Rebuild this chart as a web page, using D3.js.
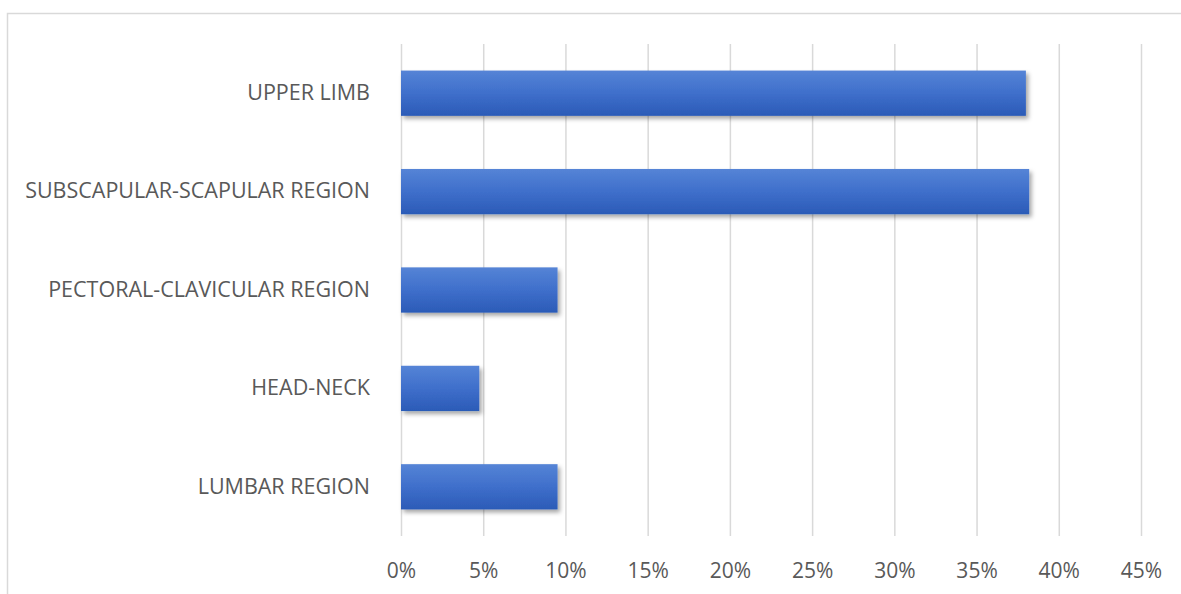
<!DOCTYPE html>
<html>
<head>
<meta charset="utf-8">
<script src="https://cdn.jsdelivr.net/npm/d3@7"></script>
<style>
  html, body { margin: 0; padding: 0; background: #fff; }
  svg { display: block; }
  text { font-family: "Open Sans", "Noto Sans", sans-serif; fill: #595959; }
</style>
</head>
<body>
<svg id="chart" width="1181" height="594"></svg>
<script>
const categories = ["UPPER LIMB", "SUBSCAPULAR-SCAPULAR REGION", "PECTORAL-CLAVICULAR REGION", "HEAD-NECK", "LUMBAR REGION"];
const values = [0.380, 0.382, 0.0952, 0.0476, 0.0952];
const tickValues = [0, 0.05, 0.10, 0.15, 0.20, 0.25, 0.30, 0.35, 0.40, 0.45];

const svg = d3.select("#chart");
const W = 1181, H = 594;
const plot = { left: 401, right: 1141, top: 44, bottom: 536 };

// outer chart border
svg.append("rect")
  .attr("x", 7.5).attr("y", 13.5)
  .attr("width", W + 20).attr("height", H + 20)
  .attr("fill", "#fff").attr("stroke", "#d9d9d9").attr("stroke-width", 1.5);

const defs = svg.append("defs");
const grad = defs.append("linearGradient").attr("id", "barGrad")
  .attr("x1", 0).attr("y1", 0).attr("x2", 0).attr("y2", 1);
grad.append("stop").attr("offset", "0%").attr("stop-color", "#5584d6");
grad.append("stop").attr("offset", "50%").attr("stop-color", "#3f6fcb");
grad.append("stop").attr("offset", "100%").attr("stop-color", "#2b5bb7");
const filt = defs.append("filter").attr("id", "shadow")
  .attr("x", "-5%").attr("y", "-20%").attr("width", "115%").attr("height", "160%");
filt.append("feDropShadow").attr("dx", 2.5).attr("dy", 3).attr("stdDeviation", 2)
  .attr("flood-color", "#000").attr("flood-opacity", 0.35);

const x = d3.scaleLinear().domain([0, 0.45]).range([plot.left, plot.right]);
const y = d3.scaleBand().domain(categories).range([plot.top, plot.bottom])
  .paddingInner(0.54).paddingOuter(0.27);

// gridlines
const grid = svg.append("g").attr("transform", `translate(0,${plot.bottom})`)
  .call(d3.axisBottom(x).tickValues(tickValues).tickSize(-(plot.bottom - plot.top)).tickFormat(""));
grid.select(".domain").remove();
grid.selectAll(".tick line").attr("stroke", "#d9d9d9").attr("stroke-width", 1.5);

// x tick labels
const xAxis = svg.append("g").attr("transform", `translate(0,${plot.bottom})`)
  .call(d3.axisBottom(x).tickValues(tickValues).tickSize(0).tickFormat(d3.format(".0%")));
xAxis.select(".domain").remove();
xAxis.selectAll("text")
  .attr("y", 42).attr("dy", 0)
  .style("font-size", "21px").style("font-family", "'Open Sans', sans-serif").attr("fill", "#5f5f5f");

// bars
svg.append("g").selectAll("rect").data(categories).join("rect")
  .attr("x", x(0))
  .attr("y", d => y(d))
  .attr("width", (d, i) => x(values[i]) - x(0))
  .attr("height", y.bandwidth())
  .attr("fill", "url(#barGrad)")
  .attr("filter", "url(#shadow)");

// category labels
const yAxis = svg.append("g").attr("transform", `translate(${plot.left},0)`)
  .call(d3.axisLeft(y).tickSize(0).tickPadding(31));
yAxis.select(".domain").remove();
yAxis.selectAll("text")
  .style("font-size", "21.5px").style("font-family", "'Open Sans', sans-serif").attr("fill", "#5f5f5f");
</script>
</body>
</html>
